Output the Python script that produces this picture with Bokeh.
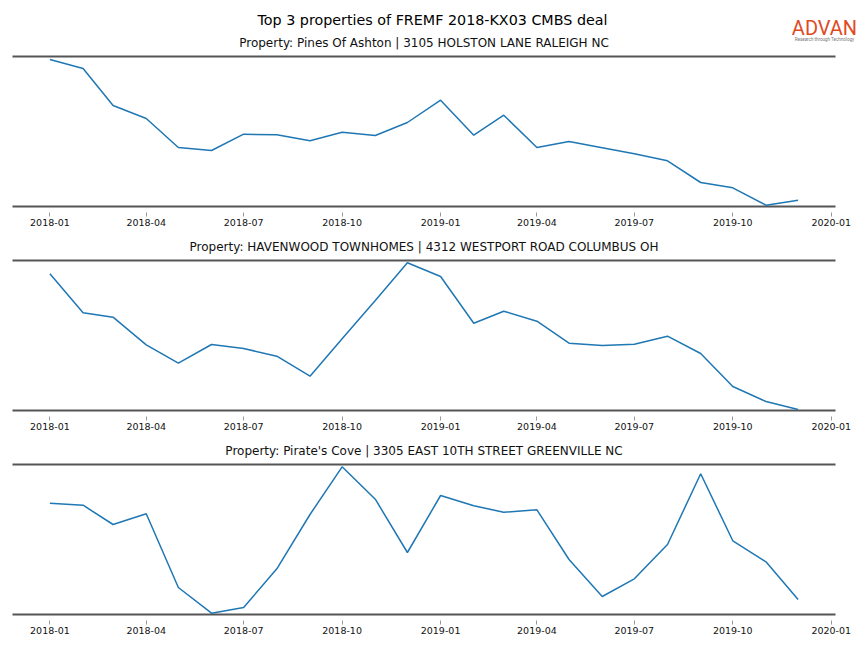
import pandas as pd
from bokeh.plotting import figure
from bokeh.layouts import column
from bokeh.models import Range1d, FixedTicker, DatetimeTickFormatter, Label
from bokeh.embed import file_html
from bokeh.resources import INLINE

# ---------------- data ----------------
months = pd.date_range("2018-01-01", "2019-12-01", freq="MS")
tick_labels = ["2018-01", "2018-04", "2018-07", "2018-10", "2019-01",
               "2019-04", "2019-07", "2019-10", "2020-01"]

main_title = "Top 3 properties of FREMF 2018-KX03 CMBS deal"
titles = [
    "Property: Pines Of Ashton | 3105 HOLSTON LANE RALEIGH NC",
    "Property: HAVENWOOD TOWNHOMES | 4312 WESTPORT ROAD COLUMBUS OH",
    "Property: Pirate's Cove | 3305 EAST 10TH STREET GREENVILLE NC",
]

pines = [147, 138, 101, 88, 59, 56, 72.3, 71.7, 65.7, 74.3, 71, 84,
         106.3, 71.3, 91.3, 59, 65, 58.7, 52.7, 45.7, 24, 18.7, 1.3, 6.3]
havenwood = [136.7, 97.7, 93.3, 65.7, 47.3, 66, 62, 54.3, 34.3, 71.7, 110, 147.7,
             134, 87.3, 99.3, 89.3, 67.3, 65, 66.3, 74.3, 57, 24, 9, 1]
pirates = [111.3, 109.3, 90, 100.7, 27, 1.3, 7, 45.7, 100, 147.7, 115.3, 62,
           119, 108.7, 102.3, 104.7, 55, 18, 35.7, 70, 140.7, 73.7, 52.7, 15]
series = [pines, havenwood, pirates]

# ---------------- styling / layout ----------------
FONT = "DejaVu Sans"
LINE_COLOR = "#1f77b4"
SPINE_COLOR = "#555555"
W = 864
AX_L, AX_R = 12, 835          # axes box (spine extent) in page pixels
SPINE_LO, SPINE_HI = 0.0, 150.0

span_days = (months[-1] - months[0]).days
x_start = months[0] - pd.Timedelta(days=span_days * 0.05)
x_end = months[-1] + pd.Timedelta(days=span_days * 0.05)
x0_ms = x_start.value / 1e6
x1_ms = x_end.value / 1e6
ms_per_px = (x1_ms - x0_ms) / (AX_R - AX_L)
frame_x0 = x0_ms - AX_L * ms_per_px
frame_x1 = x1_ms + (W - AX_R) * ms_per_px
tick_ms = [pd.Timestamp(t + "-01").value // 10**6 for t in tick_labels]


def sx(px):
    return frame_x0 + px * ms_per_px


def make_panel(vals, title, height, top_px, spine_px):
    # top_px: page y of figure top; spine_px: page y of lower spine
    frame_h = height - 20
    y_lo = -(top_px + frame_h - spine_px)
    y_hi = spine_px - top_px
    p = figure(width=W, height=height, x_axis_type="datetime",
               output_backend="svg", toolbar_location=None,
               y_axis_location=None, min_border_left=0, min_border_right=0,
               min_border_top=0, min_border_bottom=20)
    p.x_range = Range1d(frame_x0, frame_x1)
    p.y_range = Range1d(y_lo, y_hi)
    p.grid.visible = False
    p.outline_line_color = None
    p.background_fill_color = "white"
    p.border_fill_color = "white"
    # spines
    p.segment(x0=[x0_ms, x0_ms], x1=[x1_ms, x1_ms], y0=[SPINE_LO, SPINE_HI],
              y1=[SPINE_LO, SPINE_HI], line_color=SPINE_COLOR, line_width=2)
    p.line(months, vals, line_color=LINE_COLOR, line_width=1.5)
    ax = p.xaxis[0]
    ax.ticker = FixedTicker(ticks=tick_ms)
    fmt = "%Y-%m"
    ax.formatter = DatetimeTickFormatter(days=fmt, months=fmt, years=fmt)
    ax.axis_line_color = None
    ax.major_tick_in = 0
    ax.major_tick_out = 4
    ax.major_tick_line_color = "#999999"
    ax.minor_tick_line_color = None
    ax.major_label_text_font = FONT
    ax.major_label_text_font_size = "9.5px"
    ax.major_label_text_color = "#111111"
    ax.major_label_standoff = 2
    p.add_layout(Label(x=sx((AX_L + AX_R) / 2), y=SPINE_HI + 14, text=title,
                       text_font=FONT, text_font_size="12px",
                       text_align="center", text_baseline="middle",
                       text_color="#111111"))
    return p


p1 = make_panel(pines, titles[0], 232, 0, 206)
p2 = make_panel(havenwood, titles[1], 204, 232, 410)
p3 = make_panel(pirates, titles[2], 204, 436, 614)

# main title and logo (inside panel 1's frame; lower spine at page y 206)
p1.add_layout(Label(x=sx(432), y=206 - 19, text=main_title,
                    text_font=FONT, text_font_size="14.3px",
                    text_align="center", text_baseline="middle",
                    text_color="#000000"))
p1.add_layout(Label(x=sx(824), y=206 - 27.5, text="ADVAN",
                    text_font="Roboto", text_font_size="20px",
                    text_align="center", text_baseline="middle",
                    text_color="#E04A1F"))
p1.add_layout(Label(x=sx(824), y=206 - 38.5,
                    text="Research through Technology",
                    text_font="Roboto", text_font_size="4.5px",
                    text_align="center", text_baseline="middle",
                    text_color="#777777"))

layout = column(p1, p2, p3, spacing=0)
open("out.html", "w").write(file_html(layout, INLINE))
